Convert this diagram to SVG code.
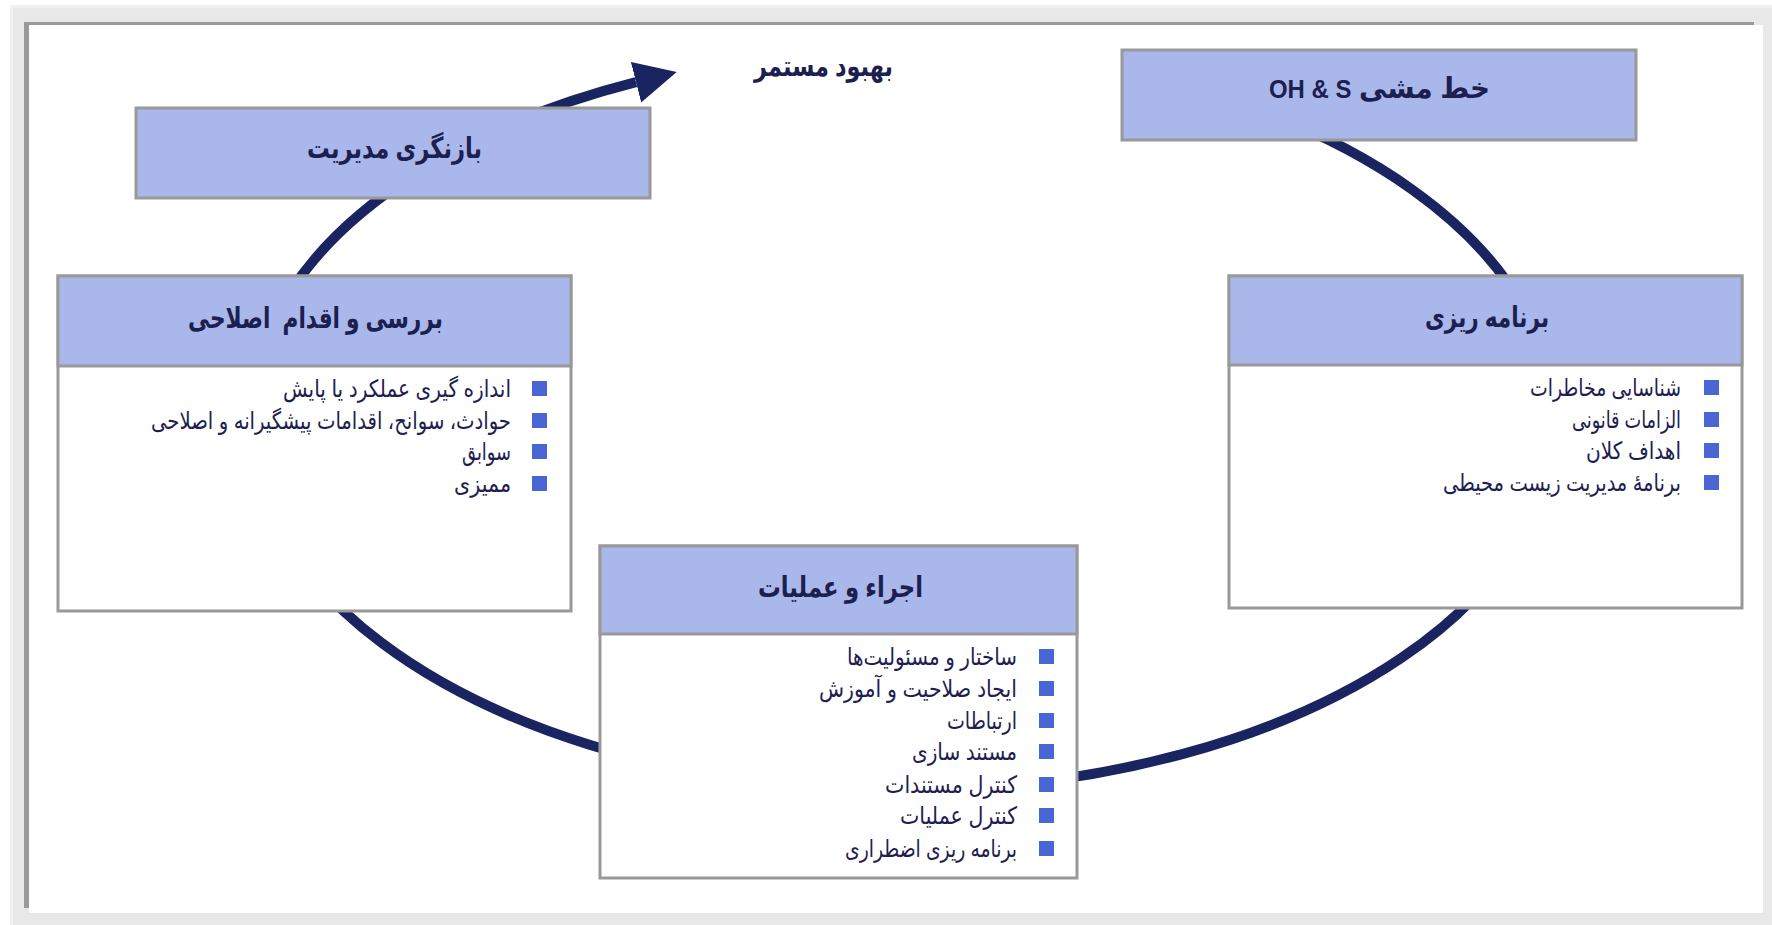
<svg xmlns="http://www.w3.org/2000/svg" width="1772" height="925" viewBox="0 0 1772 925">
<style>
.hdr{fill:#a9b7ea;stroke:#999;stroke-width:3}
.body{fill:#fff;stroke:#999;stroke-width:3}
.ht{font-family:"Liberation Sans","DejaVu Sans",sans-serif;font-weight:bold;font-size:29px;fill:#1c2050;text-anchor:middle}
.it{font-family:"Liberation Sans","DejaVu Sans",sans-serif;font-size:24px;fill:#1c2050;text-anchor:end}
.bl{fill:#4a66d5}
.arc{fill:none;stroke:#1a2461;stroke-width:10}
</style>
<defs>
<marker id="ah" markerUnits="userSpaceOnUse" markerWidth="44" markerHeight="44" viewBox="0 0 44 44" refX="0" refY="22" orient="auto">
<path d="M0,1 L42,22 L0,43 z" fill="#1a2461"/>
</marker>
</defs>
<rect x="0" y="0" width="1772" height="925" fill="#fff"/>
<rect x="10" y="5" width="1762" height="920" fill="#f1f1f1"/>
<rect x="13" y="8" width="1759" height="917" fill="#e8e8e8"/>
<rect x="24" y="22" width="1730" height="3" fill="#999"/>
<rect x="24" y="22" width="5" height="886" fill="#999"/>
<rect x="29" y="25" width="1734" height="888" fill="#fff"/>

<g id="connectors">
<path class="arc" d="M 1200 90.9 A 652 370 0 1 1 636 82.2" marker-end="url(#ah)"/>
</g>

<g id="title">
<text class="ht" x="823.5" y="76" font-size="27" textLength="139" lengthAdjust="spacingAndGlyphs">بهبود مستمر</text>
</g>

<g id="node-policy">
<rect class="hdr" x="1122" y="50" width="514" height="90"/>
<text class="ht" x="1379.5" y="98" direction="rtl" textLength="221" lengthAdjust="spacingAndGlyphs">خط مشی <tspan font-size="25">OH &amp; S</tspan></text>
</g>

<g id="node-review">
<rect class="hdr" x="136" y="108" width="514" height="90"/>
<text class="ht" x="394.5" y="158" textLength="175" lengthAdjust="spacingAndGlyphs">بازنگری مدیریت</text>
</g>

<g id="node-check">
<rect class="body" x="58" y="276" width="513" height="335"/>
<rect class="hdr" x="58" y="276" width="513" height="90"/>
<text class="ht" x="315.5" y="328" style="white-space:pre" textLength="255" lengthAdjust="spacingAndGlyphs">بررسی و اقدام  اصلاحی</text>
<rect class="bl" x="532" y="381" width="15" height="15"/>
<text class="it" x="511" y="397" textLength="228" lengthAdjust="spacingAndGlyphs">اندازه گیری عملکرد یا پایش</text>
<rect class="bl" x="532" y="413" width="15" height="15"/>
<text class="it" x="511" y="429" textLength="360" lengthAdjust="spacingAndGlyphs">حوادث، سوانح، اقدامات پیشگیرانه و اصلاحی</text>
<rect class="bl" x="532" y="444" width="15" height="15"/>
<text class="it" x="511" y="460" textLength="49" lengthAdjust="spacingAndGlyphs">سوابق</text>
<rect class="bl" x="532" y="476" width="15" height="15"/>
<text class="it" x="511" y="492" textLength="57" lengthAdjust="spacingAndGlyphs">ممیزی</text>
</g>

<g id="node-planning">
<rect class="body" x="1229" y="276" width="513" height="332"/>
<rect class="hdr" x="1229" y="276" width="513" height="89"/>
<text class="ht" x="1487" y="327" textLength="124" lengthAdjust="spacingAndGlyphs">برنامه ریزی</text>
<rect class="bl" x="1704" y="380" width="15" height="15"/>
<text class="it" x="1681" y="396" textLength="151" lengthAdjust="spacingAndGlyphs">شناسایی مخاطرات</text>
<rect class="bl" x="1704" y="412" width="15" height="15"/>
<text class="it" x="1681" y="428" textLength="109" lengthAdjust="spacingAndGlyphs">الزامات قانونی</text>
<rect class="bl" x="1704" y="443" width="15" height="15"/>
<text class="it" x="1681" y="459" textLength="95" lengthAdjust="spacingAndGlyphs">اهداف کلان</text>
<rect class="bl" x="1704" y="475" width="15" height="15"/>
<text class="it" x="1681" y="491" textLength="238" lengthAdjust="spacingAndGlyphs">برنامهٔ مدیریت زیست محیطی</text>
</g>

<g id="node-implementation">
<rect class="body" x="600" y="546" width="477" height="332"/>
<rect class="hdr" x="600" y="546" width="477" height="88"/>
<text class="ht" x="840.5" y="597" textLength="165" lengthAdjust="spacingAndGlyphs">اجراء و عملیات</text>
<rect class="bl" x="1039" y="649" width="15" height="15"/>
<text class="it" x="1017" y="665" textLength="170" lengthAdjust="spacingAndGlyphs">ساختار و مسئولیت‌ها</text>
<rect class="bl" x="1039" y="681" width="15" height="15"/>
<text class="it" x="1017" y="697" textLength="198" lengthAdjust="spacingAndGlyphs">ایجاد صلاحیت و آموزش</text>
<rect class="bl" x="1039" y="713" width="15" height="15"/>
<text class="it" x="1017" y="729" textLength="70" lengthAdjust="spacingAndGlyphs">ارتباطات</text>
<rect class="bl" x="1039" y="744" width="15" height="15"/>
<text class="it" x="1017" y="760" textLength="105" lengthAdjust="spacingAndGlyphs">مستند سازی</text>
<rect class="bl" x="1039" y="777" width="15" height="15"/>
<text class="it" x="1017" y="793" textLength="132" lengthAdjust="spacingAndGlyphs">کنترل مستندات</text>
<rect class="bl" x="1039" y="808" width="15" height="15"/>
<text class="it" x="1017" y="824" textLength="117" lengthAdjust="spacingAndGlyphs">کنترل عملیات</text>
<rect class="bl" x="1039" y="841" width="15" height="15"/>
<text class="it" x="1017" y="857" textLength="172" lengthAdjust="spacingAndGlyphs">برنامه ریزی اضطراری</text>
</g>
</svg>
